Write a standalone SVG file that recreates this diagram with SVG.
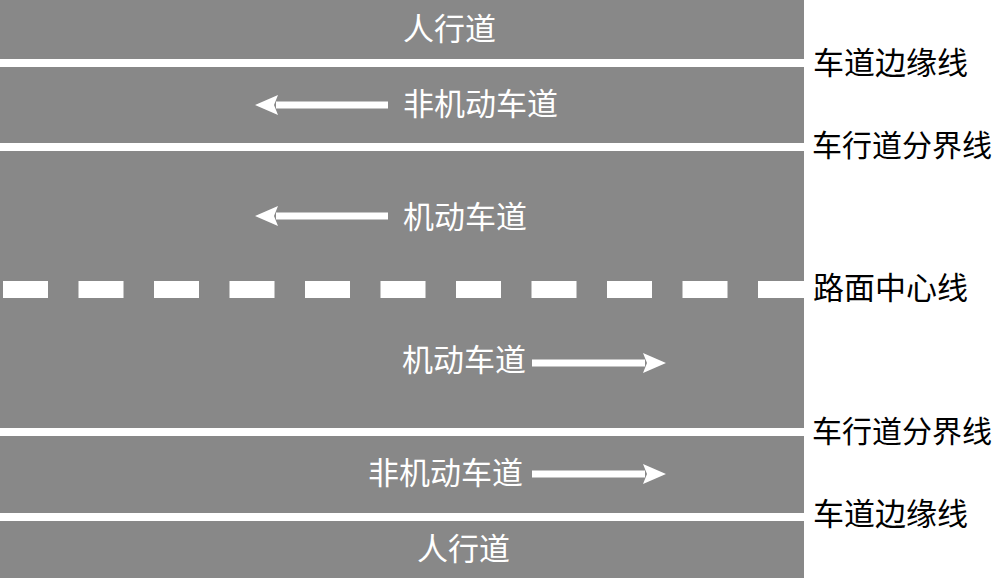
<svg xmlns="http://www.w3.org/2000/svg" width="997" height="578" viewBox="0 0 997 578">
<style>
.lane{font-family:"Liberation Serif","Noto Sans CJK SC",serif;font-size:31px;fill:#ffffff;}
.lbl{font-family:"Liberation Serif","Noto Sans CJK SC",serif;font-size:31px;fill:#000000;}
.lbl6{font-size:30px;}
.shaft{stroke:#ffffff;stroke-width:7;fill:none;}
</style>
<defs>
<marker id="ah" markerUnits="userSpaceOnUse" markerWidth="26" markerHeight="22" refX="2" refY="11" orient="auto">
<path d="M0,1 L23,11 L0,21 L4,11 z" fill="#ffffff"/>
</marker>
</defs>
<rect width="997" height="578" fill="#ffffff"/>
<g id="road">
<rect x="0" y="0" width="804" height="578" fill="#888888"/>
<rect x="0" y="59" width="804" height="8" fill="#ffffff"/>
<rect x="0" y="143" width="804" height="8" fill="#ffffff"/>
<rect x="0" y="428" width="804" height="8" fill="#ffffff"/>
<rect x="0" y="513" width="804" height="8" fill="#ffffff"/>
</g>
<g id="centerline" fill="#ffffff">
<rect x="3" y="281" width="45" height="17"/>
<rect x="78.5" y="281" width="45" height="17"/>
<rect x="154" y="281" width="45" height="17"/>
<rect x="229.5" y="281" width="45" height="17"/>
<rect x="305" y="281" width="45" height="17"/>
<rect x="380.5" y="281" width="45" height="17"/>
<rect x="456" y="281" width="45" height="17"/>
<rect x="531.5" y="281" width="45" height="17"/>
<rect x="607" y="281" width="45" height="17"/>
<rect x="682.5" y="281" width="45" height="17"/>
<rect x="758" y="281" width="46" height="17"/>
</g>
<g id="connectors">
<line class="shaft" x1="388" y1="105" x2="276" y2="105" marker-end="url(#ah)"/>
<line class="shaft" x1="388" y1="216" x2="276" y2="216" marker-end="url(#ah)"/>
<line class="shaft" x1="532" y1="363" x2="645" y2="363" marker-end="url(#ah)"/>
<line class="shaft" x1="532" y1="474" x2="645" y2="474" marker-end="url(#ah)"/>
</g>
<g id="sidewalk-top"><text class="lane" x="403" y="40">人行道</text></g>
<g id="nonmotor-top"><text class="lane" x="403" y="115">非机动车道</text></g>
<g id="motor-top"><text class="lane" x="403" y="228">机动车道</text></g>
<g id="motor-bottom"><text class="lane" x="402" y="371">机动车道</text></g>
<g id="nonmotor-bottom"><text class="lane" x="368" y="484">非机动车道</text></g>
<g id="sidewalk-bottom"><text class="lane" x="417" y="560">人行道</text></g>
<g id="label-edge-top"><text class="lbl" x="813" y="74">车道边缘线</text></g>
<g id="label-divider-top"><text class="lbl lbl6" x="812" y="156">车行道分界线</text></g>
<g id="label-center"><text class="lbl" x="813" y="299">路面中心线</text></g>
<g id="label-divider-bottom"><text class="lbl lbl6" x="812" y="442">车行道分界线</text></g>
<g id="label-edge-bottom"><text class="lbl" x="813" y="525">车道边缘线</text></g>
</svg>
